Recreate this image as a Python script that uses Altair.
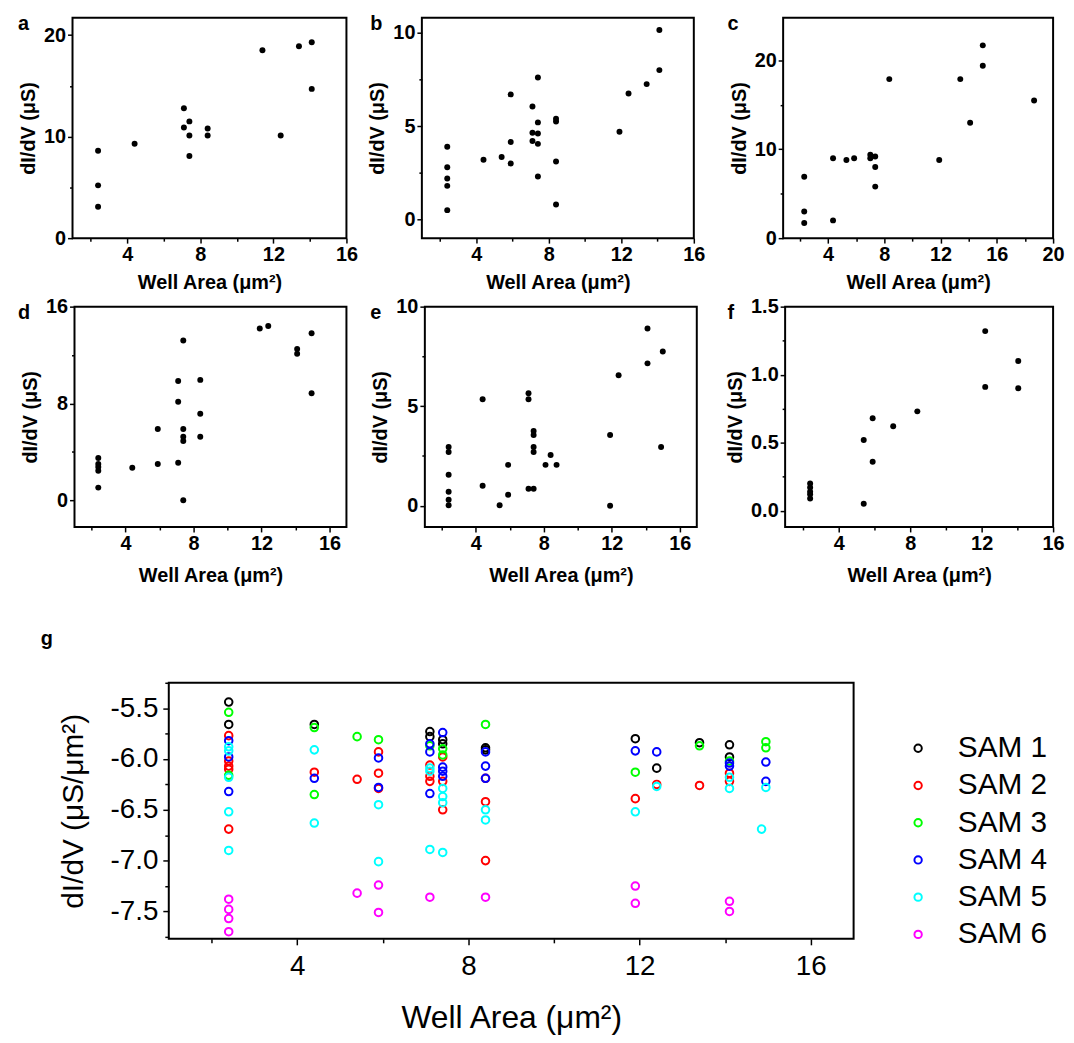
import altair as alt
import pandas as pd

FONT = "Liberation Sans"

# ---------------- panel data ----------------
a_x = [2.4, 2.4, 2.4, 4.4, 7.1, 7.1, 7.4, 7.4, 7.4, 8.4, 8.4, 11.4, 12.4, 13.4, 14.1, 14.1]
a_y = [8.6, 5.2, 3.1, 9.3, 12.8, 10.9, 11.5, 10.1, 8.1, 10.8, 10.1, 18.5, 10.1, 18.9, 19.3, 14.7]

b_x = [2.4, 2.4, 2.4, 2.4, 2.4, 4.4, 5.4, 5.9, 5.9, 5.9, 7.1, 7.1, 7.1,
       7.4, 7.4, 7.4, 7.4, 7.4, 8.4, 8.4, 8.4, 8.4, 11.9, 12.4, 13.4, 14.1, 14.1]
b_y = [3.9, 2.8, 2.2, 1.8, 0.5, 3.2, 3.35, 6.7, 4.15, 3.0, 6.05, 4.65, 4.2,
       7.6, 5.2, 4.6, 4.05, 2.3, 5.4, 5.25, 3.1, 0.8, 4.7, 6.75, 7.25, 10.15, 8.0]

c_x = [2.3, 2.3, 2.3, 4.35, 4.35, 5.3, 5.85, 7.0, 7.0, 7.35, 7.35, 7.35,
       8.35, 11.9, 13.4, 14.1, 15.0, 15.0, 18.65]
c_y = [6.9, 3.0, 1.7, 9.0, 2.0, 8.8, 9.0, 9.4, 9.0, 9.2, 8.0, 5.8,
       17.9, 8.8, 17.9, 13.0, 21.7, 19.4, 15.5]

d_x = [2.4, 2.4, 2.4, 2.4, 2.4, 4.4, 5.9, 5.9, 7.1, 7.1, 7.1, 7.4, 7.4, 7.4, 7.4, 7.4,
       8.4, 8.4, 8.4, 11.9, 12.4, 14.1, 14.1, 14.95, 14.95]
d_y = [3.5, 3.0, 2.75, 2.45, 1.05, 2.7, 5.9, 3.0, 9.85, 8.15, 3.1, 13.2, 5.9, 5.25, 4.9, 0.0,
       9.95, 7.15, 5.25, 14.2, 14.4, 12.5, 12.1, 13.8, 8.85]

e_x = [2.4, 2.4, 2.4, 2.4, 2.4, 2.4, 4.4, 4.4, 5.4, 5.9, 5.9, 7.1, 7.1, 7.1,
       7.4, 7.4, 7.4, 7.4, 7.4, 8.1, 8.4, 8.75, 11.9, 11.9, 12.4, 14.1, 14.1, 14.9, 15.0]
e_y = [2.95, 2.7, 1.55, 0.7, 0.3, 0.02, 5.35, 1.0, 0.02, 2.05, 0.55, 5.65, 5.35, 0.85,
       0.85, 3.75, 3.55, 2.95, 2.7, 2.05, 2.55, 2.05, 3.55, 0.0, 6.55, 8.9, 7.15, 2.95, 7.75]

f_x = [2.4, 2.4, 2.4, 2.4, 2.4, 5.4, 5.4, 5.9, 5.9, 7.05, 8.4, 12.2, 12.2, 14.05, 14.05]
f_y = [0.2, 0.17, 0.14, 0.12, 0.09, 0.52, 0.05, 0.68, 0.36, 0.62, 0.73, 1.32, 0.91, 1.10, 0.90]

# tick values
x_ticks_16 = [2, 4, 6, 8, 10, 12, 14, 16]
x_ticks_20 = [2, 4, 6, 8, 10, 12, 14, 16, 18, 20]
a_yticks = [0, 5, 10, 15, 20]
b_yticks = [0, 2.5, 5, 7.5, 10]
c_yticks = [0, 5, 10, 15, 20]
d_yticks = [0, 4, 8, 12, 16]
e_yticks = [0, 2.5, 5, 7.5, 10]
f_yticks = [0, 0.25, 0.5, 0.75, 1.0, 1.25, 1.5]

# ---------------- panel g data ----------------
sam_names = ["SAM 1", "SAM 2", "SAM 3", "SAM 4", "SAM 5", "SAM 6"]
sam_colors = ["#000000", "#ff0000", "#00ff00", "#0000ff", "#00ffff", "#ff00ff"]

sam1_x = [2.4, 2.4, 4.4, 7.1, 7.1, 7.4, 7.4, 8.4, 8.4, 11.9, 12.4, 13.4, 14.1, 14.1]
sam1_y = [-5.44, -5.66, -5.66, -5.73, -5.78, -5.81, -5.85, -5.89, -5.91, -5.80, -6.09, -5.84, -5.86, -5.98]
sam2_x = [2.4, 2.4, 2.4, 2.4, 2.4, 4.4, 5.4, 5.9, 5.9, 5.9, 7.1, 7.1, 7.1, 7.4, 7.4, 7.4,
          8.4, 8.4, 8.4, 11.9, 12.4, 13.4, 14.1, 14.1]
sam2_y = [-5.77, -6.02, -6.07, -6.10, -6.69, -6.13, -6.20, -5.93, -6.14, -6.29, -6.06, -6.17, -6.22,
          -5.98, -6.22, -6.50, -6.19, -6.42, -7.00, -6.39, -6.25, -6.26, -6.14, -6.22]
sam3_x = [2.4, 2.4, 4.4, 4.4, 5.4, 5.9, 7.1, 7.4, 7.4, 8.4, 11.9, 13.4, 14.1, 14.95, 14.95]
sam3_y = [-5.54, -6.16, -5.69, -6.35, -5.78, -5.81, -5.87, -5.90, -5.96, -5.66, -6.13, -5.87, -6.02, -5.83, -5.89]
sam4_x = [2.4, 2.4, 2.4, 4.4, 5.9, 5.9, 7.1, 7.1, 7.1, 7.4, 7.4, 7.4, 7.4, 8.4, 8.4, 8.4,
          11.9, 12.4, 14.1, 14.1, 14.95, 14.95]
sam4_y = [-5.82, -5.98, -6.32, -6.19, -5.99, -6.28, -5.85, -5.93, -6.34, -5.74, -6.08, -6.12, -6.17,
          -5.93, -6.07, -6.19, -5.92, -5.93, -6.04, -6.07, -6.03, -6.22]
sam5_x = [2.4, 2.4, 2.4, 2.4, 2.4, 4.4, 4.4, 5.9, 5.9, 7.1, 7.1, 7.1, 7.4, 7.4, 7.4, 7.4,
          8.4, 8.4, 11.9, 12.4, 14.1, 14.1, 14.95, 14.85]
sam5_y = [-5.88, -5.92, -6.18, -6.52, -6.90, -5.91, -6.63, -6.45, -7.01, -6.09, -6.12, -6.89,
          -6.29, -6.37, -6.43, -6.92, -6.50, -6.60, -6.52, -6.27, -6.18, -6.29, -6.28, -6.69]
sam6_x = [2.4, 2.4, 2.4, 2.4, 5.4, 5.9, 5.9, 7.1, 8.4, 11.9, 11.9, 14.1, 14.1]
sam6_y = [-7.38, -7.48, -7.57, -7.70, -7.32, -7.24, -7.51, -7.36, -7.36, -7.25, -7.42, -7.40, -7.50]

g_xticks = [2, 4, 6, 8, 10, 12, 14, 16]
g_yticks = [-7.75, -7.5, -7.25, -7.0, -6.75, -6.5, -6.25, -6.0, -5.75, -5.5, -5.25]

SMALL_FS = 20
LETTER_FS = 20


def is_major(m):
    return f"abs(datum.value/{m} - round(datum.value/{m})) < 0.001"


def is_minor(m):
    return f"abs(datum.value/{m} - round(datum.value/{m})) >= 0.001"


def small_axis(values, major, fmt, title, title_pad):
    return alt.Axis(
        values=values,
        labelExpr=f"{is_major(major)} ? format(datum.value, '{fmt}') : ''",
        tickSize={"condition": {"test": is_minor(major), "value": 3}, "value": 5},
        tickWidth=1.5, tickColor="black", domain=False, grid=False,
        labelFont=FONT, labelFontSize=SMALL_FS, labelFontWeight="bold", labelColor="black",
        labelPadding=2, labelFlush=False, labelOverlap=False,
        title=title, titleFont=FONT, titleFontSize=SMALL_FS, titleFontWeight="bold",
        titleColor="black", titlePadding=title_pad,
    )


def panel(letter, xs, ys, xdom, ydom, xticks, yticks, ymajor, yfmt, w, h, L, R, T, B, ldx, xtp):
    df = pd.DataFrame({"x": xs, "y": ys})
    pts = alt.Chart(df).mark_circle(size=36, color="black", opacity=1).encode(
        x=alt.X("x:Q", scale=alt.Scale(domain=xdom, nice=False, zero=False),
                axis=small_axis(xticks, 4, "d", "Well Area (μm²)", xtp)),
        y=alt.Y("y:Q", scale=alt.Scale(domain=ydom, nice=False, zero=False),
                axis=small_axis(yticks, ymajor, yfmt, "dI/dV (μS)", 5)),
    )
    one = pd.DataFrame({"t": [letter]})
    txt = alt.Chart(one).mark_text(
        font=FONT, fontSize=LETTER_FS, fontWeight="bold", align="left", baseline="middle", color="black"
    ).encode(text="t:N", x=alt.value(ldx), y=alt.value(6))
    box = alt.Chart(one).mark_rect(opacity=0).encode(
        x=alt.value(-L), x2=alt.value(w + R), y=alt.value(-T), y2=alt.value(h + B)
    )
    return alt.layer(pts, txt, box).properties(width=w, height=h)


def spacer():
    one = pd.DataFrame({"t": [""]})
    return alt.Chart(one).mark_rect(opacity=0).encode(
        x=alt.value(0), x2=alt.value(1), y=alt.value(0), y2=alt.value(1)
    ).properties(width=1, height=1, view=alt.ViewBackground(stroke="transparent", strokeWidth=0))


H = 222
pa = panel("a", a_x, a_y, [1, 16], [0, 21.7], x_ticks_16, a_yticks, 10, "d", 276, H, 59, 12, 5, 56, -55, 8)
pb = panel("b", b_x, b_y, [1, 16], [-1, 10.8], x_ticks_16, b_yticks, 5, "d", 274, H, 62, 12, 5, 56, -52, 8)
pc = panel("c", c_x, c_y, [0.8, 20], [0, 24.8], x_ticks_20, c_yticks, 10, "d", 272, H, 76, 0, 5, 56, -56, 8)
pd_ = panel("d", d_x, d_y, [1, 17], [-2.2, 16], x_ticks_16, d_yticks, 8, "d", 274, H, 61, 12, 11, 62, -57, 12)
pe = panel("e", e_x, e_y, [1, 17], [-1.07, 10], x_ticks_16, e_yticks, 5, "d", 274, H, 65, 12, 11, 62, -55, 12)
pf = panel("f", f_x, f_y, [1, 16], [-0.12, 1.5], x_ticks_16, f_yticks, 0.5, ".1f", 270, H, 75, 0, 11, 62, -58, 12)

# ---------------- panel g ----------------
rows = []
for name, xs, ys in zip(sam_names,
                        [sam1_x, sam2_x, sam3_x, sam4_x, sam5_x, sam6_x],
                        [sam1_y, sam2_y, sam3_y, sam4_y, sam5_y, sam6_y]):
    for xv, yv in zip(xs, ys):
        rows.append({"series": name, "x": xv, "y": yv})
gdf = pd.DataFrame(rows)

GW, GH = 690, 258
g_xaxis = alt.Axis(
    values=g_xticks,
    labelExpr=f"{is_major(4)} ? format(datum.value, 'd') : ''",
    tickSize={"condition": {"test": is_minor(4), "value": 4}, "value": 6},
    tickWidth=1.5, tickColor="black", domain=False, grid=False,
    labelFont=FONT, labelFontSize=28, labelColor="black", labelPadding=8,
    labelFlush=False, labelOverlap=False,
    title="Well Area (μm²)", titleFont=FONT, titleFontSize=32, titleFontWeight="normal",
    titleColor="black", titlePadding=22,
)
g_yaxis = alt.Axis(
    values=g_yticks,
    labelExpr=f"{is_major(0.5)} ? replace(format(datum.value, '.1f'), '\u2212', '-') : ''",
    tickSize={"condition": {"test": is_minor(0.5), "value": 4}, "value": 6},
    tickWidth=1.5, tickColor="black", domain=False, grid=False,
    labelFont=FONT, labelFontSize=28, labelColor="black", labelPadding=5,
    labelFlush=False, labelOverlap=False,
    title="dI/dV (μS/μm²)", titleFont=FONT, titleFontSize=30, titleFontWeight="normal",
    titleColor="black", titlePadding=22,
)
g_pts = alt.Chart(gdf).mark_point(shape="circle", filled=False, size=58, strokeWidth=2, opacity=1).encode(
    x=alt.X("x:Q", scale=alt.Scale(domain=[1, 17], nice=False, zero=False), axis=g_xaxis),
    y=alt.Y("y:Q", scale=alt.Scale(domain=[-7.77, -5.25], nice=False, zero=False), axis=g_yaxis),
    color=alt.Color(
        "series:N",
        scale=alt.Scale(domain=sam_names, range=sam_colors),
        legend=alt.Legend(
            title=None, orient="none", legendX=740, legendY=51, padding=0,
            labelFont=FONT, labelFontSize=30, labelColor="black",
            symbolType="circle", symbolSize=55, symbolStrokeWidth=2,
            rowPadding=7.5, labelOffset=25,
        ),
    ),
)
gone = pd.DataFrame({"t": ["g"]})
g_txt = alt.Chart(gone).mark_text(
    font=FONT, fontSize=LETTER_FS, fontWeight="bold", align="left", baseline="middle", color="black"
).encode(text="t:N", x=alt.value(-129), y=alt.value(-44))
g_box = alt.Chart(gone).mark_rect(opacity=0).encode(
    x=alt.value(-156), x2=alt.value(GW), y=alt.value(-93), y2=alt.value(GH)
)
pg = alt.layer(g_pts, g_txt, g_box).properties(width=GW, height=GH)

row1 = alt.hconcat(spacer(), pa, pb, pc, spacing=0)
row2 = alt.hconcat(spacer(), pd_, pe, pf, spacing=0)
row3 = alt.hconcat(spacer(), pg, spacing=0).resolve_scale(color="independent")
chart = (
    alt.vconcat(row1, row2, row3, spacing=0)
    .resolve_scale(color="independent")
    .properties(padding={"left": 4, "top": 0, "right": 0, "bottom": 0})
    .configure_view(stroke="black", strokeWidth=2)
    .configure_concat(spacing=0)
)

chart.save("out.html", embed_options={"renderer": "svg", "actions": False})
